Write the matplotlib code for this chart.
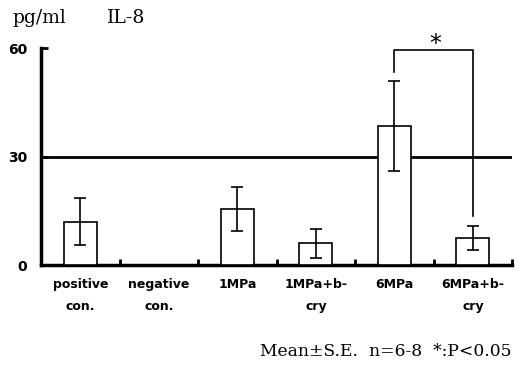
import numpy as np
import matplotlib.pyplot as plt

# datos
grupos = ["positive\ncon.", "negative\ncon.", "1MPa", "1MPa+b-\ncry", "6MPa", "6MPa+b-\ncry"]
medias = [12, 0, 15.5, 6, 38.5, 7.5]
errores = [6.5, 0, 6, 4, 12.5, 3.2]
linea_ref = 30

fig = plt.figure(figsize=(5.19, 3.76), dpi=100)
ax = fig.add_axes([0.079, 0.295, 0.908, 0.577])

x = np.arange(len(grupos))
mostrar = [m > 0 for m in medias]
ax.bar(x[mostrar], np.array(medias)[mostrar], width=0.42, color="white",
       edgecolor="black", linewidth=1.2, zorder=3)
ax.errorbar(x[mostrar], np.array(medias)[mostrar], yerr=np.array(errores)[mostrar],
            fmt="none", ecolor="black", elinewidth=1.2, capsize=4, capthick=1.2, zorder=4)

ax.axhline(linea_ref, color="black", linewidth=2, zorder=2)

# corchete de significancia entre 6MPa y 6MPa+b-cry
ax.plot([4, 4, 5, 5], [53.4, 59.4, 59.4, 13.5], color="black", linewidth=1.2,
        zorder=5, clip_on=False)
ax.text(4.52, 61.2, "*", ha="center", va="center", fontsize=17,
        family="DejaVu Sans", clip_on=False)

ax.set_xlim(-0.5, 5.5)
ax.set_ylim(0, 60)
ax.set_yticks([0, 30, 60])
ax.set_yticklabels(["0", "30", "60"], fontweight="bold", fontsize=10)
ax.set_xticks(x)
ax.set_xticklabels(grupos, fontweight="bold", fontsize=9, linespacing=1.9)
ax.set_xticks(np.arange(0.5, 6, 1), minor=True)
ax.tick_params(axis="x", which="major", length=0, pad=9)
ax.tick_params(axis="x", which="minor", direction="in", length=4, width=2)
ax.tick_params(axis="y", direction="in", length=5, width=2, pad=10)

for lado in ["top", "right"]:
    ax.spines[lado].set_visible(False)
ax.spines["left"].set_linewidth(2.5)
ax.spines["bottom"].set_linewidth(2.5)

fig.text(0.025, 0.952, "pg/ml", fontsize=13.5, family="DejaVu Serif", va="center")
fig.text(0.206, 0.952, "IL-8", fontsize=13.5, family="DejaVu Serif", va="center")
fig.text(0.985, 0.065, "Mean±S.E.  n=6-8  *:P<0.05", fontsize=12.3,
         family="DejaVu Serif", ha="right", va="center")

plt.savefig("out.png", dpi=100)
